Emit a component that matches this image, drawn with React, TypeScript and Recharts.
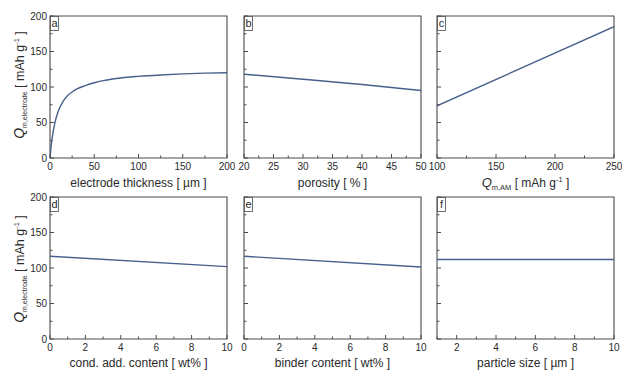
import { LineChart, Line, XAxis, YAxis, ReferenceArea } from 'recharts';

// panel a: electrode thickness [µm]
const thicknessX = [0, 1, 2, 4, 6, 8, 10, 15, 20, 25, 30, 40, 50, 60, 75, 100, 125, 150, 175, 200];
const thicknessQ = [0, 13, 24, 40, 52, 61, 68, 80, 88, 93, 97, 102, 106, 109, 112, 115, 117, 118.5, 119.5, 120];
// panel b: porosity [%]
const porosityX = [20, 30, 40, 50];
const porosityQ = [118, 111, 103.5, 95];
// panel c: Q m,AM
const qamX = [100, 250];
const qamQ = [73.5, 185];
// panel d: conductive additive [wt%]
const condX = [0, 10];
const condQ = [116.5, 102];
// panel e: binder [wt%]
const binderX = [0, 10];
const binderQ = [116.5, 101.5];
// panel f: particle size [µm]
const particleX = [1, 10];
const particleQ = [112, 112];

const yTicks = [0, 25, 50, 75, 100, 125, 150, 175, 200];
const yMajor = [0, 50, 100, 150, 200];
const ticksA = [0, 25, 50, 75, 100, 125, 150, 175, 200];
const majorA = [0, 50, 100, 150, 200];
const ticksB = [20, 22.5, 25, 27.5, 30, 32.5, 35, 37.5, 40, 42.5, 45, 47.5, 50];
const majorB = [20, 25, 30, 35, 40, 45, 50];
const ticksC = [100, 125, 150, 175, 200, 225, 250];
const majorC = [100, 150, 200, 250];
const ticksDE = [0, 1, 2, 3, 4, 5, 6, 7, 8, 9, 10];
const majorDE = [0, 2, 4, 6, 8, 10];
const ticksF = [1, 2, 3, 4, 5, 6, 7, 8, 9, 10];
const majorF = [2, 4, 6, 8, 10];

const FONT = '"Liberation Sans", Arial, sans-serif';
const LINE = '#48608c';
const FRAME = '#4a4a4a';
const TXT = '#2a2a2a';

const W = 177, H = 142;
const L = 40, T = 6, R = 8, B = 24;
const COLS = [50, 244, 437];
const ROWS = [16, 197];

const XTick = (p: any) => {
  const major = p.majors.includes(p.payload.value);
  const ay = p.y - 5;
  return (
    <g>
      <line x1={p.x} x2={p.x} y1={ay} y2={ay - (major ? 4 : 2.5)} stroke={FRAME} />
      {major && (
        <text x={p.x} y={p.y} dy="0.71em" textAnchor="middle" fontSize={10} fill={TXT} fontFamily={FONT}>
          {p.payload.value}
        </text>
      )}
    </g>
  );
};

const YTick = (p: any) => {
  const major = yMajor.includes(p.payload.value);
  const ax = p.x + 3;
  return (
    <g>
      <line x1={ax} x2={ax + (major ? 4 : 2.5)} y1={p.y} y2={p.y} stroke={FRAME} />
      {major && p.show && (
        <text x={p.x} y={p.y} dy="0.35em" textAnchor="end" fontSize={10} fill={TXT} fontFamily={FONT}>
          {p.payload.value}
        </text>
      )}
    </g>
  );
};

function Panel({ xs, ys, ticks, majors, col, row, curve }: any) {
  const data = xs.map((x: number, i: number) => ({ x, q: ys[i] }));
  const x0 = COLS[col], y0 = ROWS[row];
  const dom = [ticks[0], ticks[ticks.length - 1]];
  return (
    <div style={{ position: 'absolute', left: x0 - L, top: y0 - T }}>
      <LineChart width={L + W + R} height={T + H + B} data={data} margin={{ top: T, right: R, left: 0, bottom: 0 }}>
        <XAxis
          dataKey="x"
          type="number"
          domain={dom}
          ticks={ticks}
          interval={0}
          height={B}
          axisLine={false}
          tickLine={false}
          tickSize={0}
          tickMargin={5}
          allowDataOverflow
          tick={(p: any) => <XTick {...p} majors={majors} />}
        />
        <YAxis
          type="number"
          domain={[0, 200]}
          ticks={yTicks}
          interval={0}
          width={L}
          axisLine={false}
          tickLine={false}
          tickSize={0}
          tickMargin={3}
          tick={(p: any) => <YTick {...p} show={col === 0} />}
        />
        <ReferenceArea x1={dom[0]} x2={dom[1]} y1={0} y2={200} fill="none" stroke={FRAME} strokeWidth={1.1} />
        <Line
          dataKey="q"
          type={curve ? 'monotone' : 'linear'}
          stroke={LINE}
          strokeWidth={1.4}
          dot={false}
          isAnimationActive={false}
        />
      </LineChart>
    </div>
  );
}

const YTitle = ({ cy }: { cy: number }) => (
  <text x={24} y={cy} transform={`rotate(-90 24 ${cy})`} textAnchor="middle" fill={TXT} fontFamily={FONT} fontSize={12.5}>
    <tspan fontStyle="italic" fontSize={14}>Q</tspan>
    <tspan fontSize={7} dy={3}>m,electrode</tspan>
    <tspan dy={-3}> [ mAh g</tspan>
    <tspan fontSize={7.5} dy={-5}>-1</tspan>
    <tspan dy={5}> ]</tspan>
  </text>
);

const titles = [
  'electrode thickness [ µm ]',
  'porosity [ % ]',
  '',
  'cond. add. content [ wt% ]',
  'binder content [ wt% ]',
  'particle size [ µm ]',
];
const letters = ['a', 'b', 'c', 'd', 'e', 'f'];

export default function App() {
  return (
    <div style={{ position: 'absolute', left: 0, top: 0, width: 640, height: 382, background: '#fff', fontFamily: FONT }}>
      <Panel xs={thicknessX} ys={thicknessQ} ticks={ticksA} majors={majorA} col={0} row={0} curve />
      <Panel xs={porosityX} ys={porosityQ} ticks={ticksB} majors={majorB} col={1} row={0} curve />
      <Panel xs={qamX} ys={qamQ} ticks={ticksC} majors={majorC} col={2} row={0} />
      <Panel xs={condX} ys={condQ} ticks={ticksDE} majors={majorDE} col={0} row={1} />
      <Panel xs={binderX} ys={binderQ} ticks={ticksDE} majors={majorDE} col={1} row={1} />
      <Panel xs={particleX} ys={particleQ} ticks={ticksF} majors={majorF} col={2} row={1} />
      <svg width={640} height={382} style={{ position: 'absolute', left: 0, top: 0, pointerEvents: 'none' }}>
        <YTitle cy={85} />
        <YTitle cy={269} />
        {letters.map((l, i) => {
          const x0 = COLS[i % 3], y0 = ROWS[Math.floor(i / 3)];
          return (
            <g key={l}>
              <rect x={x0 + 0.5} y={y0 + 0.5} width={8} height={14} fill="#fff" stroke={FRAME} strokeWidth={0.8} />
              <text x={x0 + 4.5} y={y0 + 11} textAnchor="middle" fontSize={11} fill={TXT} fontFamily={FONT}>{l}</text>
            </g>
          );
        })}
        {titles.map((t, i) =>
          t ? (
            <text key={i} x={COLS[i % 3] + W / 2} y={i < 3 ? 187 : 367} textAnchor="middle" fontSize={12} fill={TXT} fontFamily={FONT}>
              {t}
            </text>
          ) : null
        )}
        <text x={COLS[2] + W / 2} y={187} textAnchor="middle" fontSize={12} fill={TXT} fontFamily={FONT}>
          <tspan fontStyle="italic" fontSize={13}>Q</tspan>
          <tspan fontSize={7.5} dy={3}>m,AM</tspan>
          <tspan dy={-3}> [ mAh g</tspan>
          <tspan fontSize={7.5} dy={-5}>-1</tspan>
          <tspan dy={5}> ]</tspan>
        </text>
      </svg>
    </div>
  );
}
